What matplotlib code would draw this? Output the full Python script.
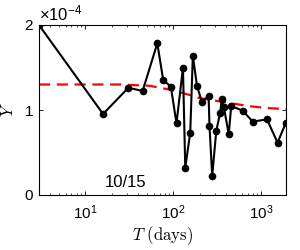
import matplotlib
matplotlib.use('Agg')
import matplotlib.pyplot as plt
import numpy as np

# measured series (T in days, Y)
t_days = [3, 16, 31, 45, 66, 77, 94, 109, 129, 137, 156, 167, 186, 211, 252,
          258, 277, 308, 341, 356, 375, 427, 455, 615, 798, 1159, 1528, 1900]
y_vals = [2.0, 0.953, 1.262, 1.224, 1.785, 1.353, 1.275, 0.843, 1.498, 0.322,
          0.733, 1.639, 1.286, 1.098, 1.165, 0.816, 0.224, 0.753, 0.969, 1.126,
          1.039, 0.714, 1.047, 0.992, 0.863, 0.890, 0.616, 0.851]
y_vals = [v * 1e-4 for v in y_vals]

# fitted trend (red dashed)
fit_t = [3, 25, 54, 91, 150, 200, 300, 450, 730, 1100, 1900]
fit_y = [1.30, 1.30, 1.285, 1.24, 1.18, 1.14, 1.11, 1.08, 1.045, 1.025, 1.01]
fit_y = [v * 1e-4 for v in fit_y]

label_text = '10/15'

plt.rcParams['font.family'] = ['Liberation Sans', 'DejaVu Sans']
plt.rcParams['mathtext.fontset'] = 'custom'
plt.rcParams['mathtext.rm'] = 'Liberation Sans'
plt.rcParams['mathtext.it'] = 'Liberation Sans:italic'

fig = plt.figure(figsize=(3, 2.5), dpi=100)
ax = fig.add_axes([0.13, 0.22, 0.823, 0.68])

ax.plot(fit_t, fit_y, '--', color='red', lw=1.6, dashes=(5, 3), zorder=1)
ax.plot(t_days, y_vals, '-o', color='black', lw=1.5, ms=4.5, zorder=2)

ax.set_xscale('log')
ax.set_xlim(3, 1900)
ax.set_ylim(0, 2e-4)
ax.set_yticks([0, 1e-4, 2e-4])
ax.ticklabel_format(axis='y', style='sci', scilimits=(0, 0), useMathText=True)
ax.yaxis.get_offset_text().set_fontsize(12)

ax.tick_params(which='both', direction='in', top=True, right=True, labelsize=11)
ax.tick_params(which='major', length=3, width=0.6)
ax.tick_params(which='minor', length=1.5, width=0.5)
ax.tick_params(axis='x', pad=6)
for s in ax.spines.values():
    s.set_linewidth(0.8)

xl = ax.set_xlabel(r'$T\ \mathrm{(days)}$', fontsize=12, labelpad=2)
xl.set_math_fontfamily('cm')
yl = ax.set_ylabel(r'$Y$', fontsize=12, labelpad=6)
yl.set_math_fontfamily('cm')

ax.text(0.35, 0.076, label_text, transform=ax.transAxes, fontsize=12,
        ha='center', va='center')

fig.savefig('out.png', dpi=100)
